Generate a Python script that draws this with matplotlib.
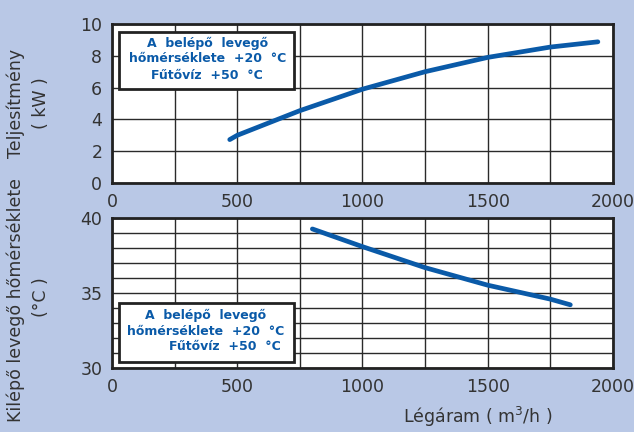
import matplotlib
matplotlib.use("Agg")
import matplotlib.pyplot as plt
from matplotlib.patches import Rectangle

# ---- data ----
airflow_top = [470, 500, 750, 1000, 1250, 1500, 1750, 1940]
power_kw = [2.73, 3.0, 4.55, 5.9, 7.0, 7.9, 8.55, 8.88]

airflow_bottom = [800, 1000, 1250, 1500, 1750, 1830]
outlet_temp = [39.28, 38.1, 36.7, 35.53, 34.6, 34.22]

x_ticks = [0, 500, 1000, 1500, 2000]
top_yticks = [0, 2, 4, 6, 8, 10]
bottom_yticks = [30, 35, 40]

box_lines = ["A  belépő  levegő", "hőmérséklete  +20  °C", "Fűtővíz  +50  °C"]

BG = "#b9c8e6"
LINE = "#0a5aa8"
TXT = "#333333"
GRID = "#2a2a2a"

plt.rcParams['font.family'] = ['DejaVu Sans']

fig = plt.figure(figsize=(6.34, 4.32), dpi=100, facecolor=BG)
ax1 = fig.add_axes([0.1767, 0.5764, 0.790, 0.368])
ax2 = fig.add_axes([0.1767, 0.148, 0.790, 0.347])

for ax in (ax1, ax2):
    ax.set_facecolor("white")
    ax.set_xlim(0, 2000)
    ax.set_xticks(x_ticks)
    ax.set_xticks(range(0, 2001, 250), minor=True)
    ax.grid(True, which='both', axis='x', color=GRID, lw=1.0)
    ax.tick_params(which='both', length=0, labelsize=12.5, labelcolor=TXT, pad=7)
    for s in ax.spines.values():
        s.set_linewidth(2.0)
        s.set_color("#222222")
    ax.set_axisbelow(True)

ax1.set_ylim(0, 10)
ax1.set_yticks(top_yticks)
ax1.grid(True, which='major', axis='y', color=GRID, lw=1.0)
ax1.plot(airflow_top, power_kw, color=LINE, lw=3.4, solid_capstyle='round', zorder=5)

ax2.set_ylim(30, 40)
ax2.set_yticks(bottom_yticks)
ax2.set_yticks(range(30, 41, 1), minor=True)
ax2.grid(True, which='both', axis='y', color=GRID, lw=1.0)
ax2.plot(airflow_bottom, outlet_temp, color=LINE, lw=3.4, solid_capstyle='round', zorder=5)

# text boxes
def box(ax, x0, y0, x1, y1):
    ax.add_patch(Rectangle((x0, y0), x1 - x0, y1 - y0, transform=ax.transAxes,
                           facecolor="white", edgecolor="#222222", lw=2.0, zorder=6))

box(ax1, 0.0146, 0.591, 0.364, 0.951)
for yy, t in zip([0.878, 0.784, 0.679], box_lines):
    ax1.text(0.190, yy, t, transform=ax1.transAxes, ha='center', va='center',
             color=LINE, fontsize=9, fontweight='bold', zorder=7)

box(ax2, 0.0146, 0.042, 0.364, 0.435)
ax2.text(0.186, 0.353, box_lines[0], transform=ax2.transAxes, ha='center', va='center',
         color=LINE, fontsize=9, fontweight='bold', zorder=7)
ax2.text(0.186, 0.247, box_lines[1], transform=ax2.transAxes, ha='center', va='center',
         color=LINE, fontsize=9, fontweight='bold', zorder=7)
ax2.text(0.337, 0.142, box_lines[2], transform=ax2.transAxes, ha='right', va='center',
         color=LINE, fontsize=9, fontweight='bold', zorder=7)

# axis labels
fig.text(16 / 634, 1 - 103 / 432, "Teljesítmény", rotation=90, ha='center', va='center',
         fontsize=12.5, color=TXT)
fig.text(41 / 634, 1 - 103 / 432, "( kW )", rotation=90, ha='center', va='center',
         fontsize=12.5, color=TXT)
fig.text(16 / 634, 1 - 300 / 432, "Kilépő levegő hőmérséklete", rotation=90, ha='center',
         va='center', fontsize=12.5, color=TXT)
fig.text(41 / 634, 1 - 297 / 432, "(°C )", rotation=90, ha='center', va='center',
         fontsize=12.5, color=TXT)
fig.text(478 / 634, 1 - 417 / 432, "Légáram ( m$^3$/h )", ha='center', va='center',
         fontsize=12.5, color=TXT)

fig.savefig("out.png", dpi=100, facecolor=BG)
